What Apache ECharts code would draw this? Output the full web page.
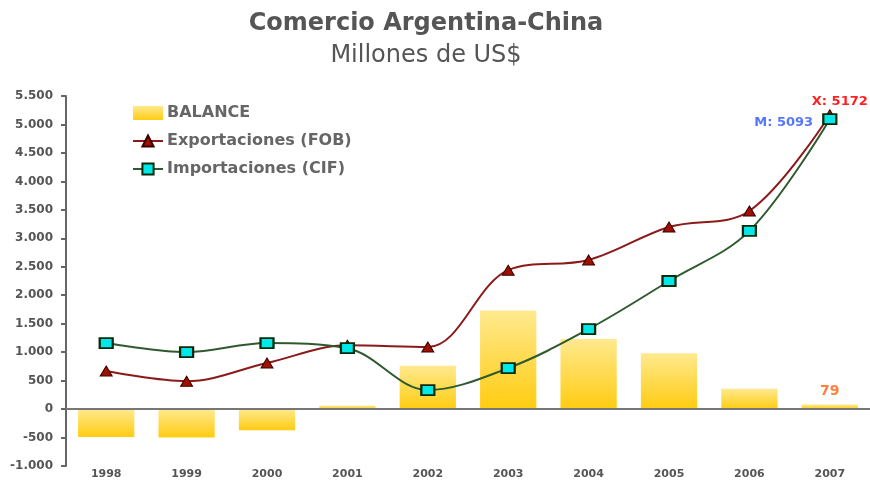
<!DOCTYPE html>
<html>
<head>
<meta charset="utf-8">
<script src="https://cdn.jsdelivr.net/npm/echarts@6/dist/echarts.min.js"></script>
<style>
html,body{margin:0;padding:0;background:#fff}
#chart{width:870px;height:493px}
</style>
</head>
<body>
<div id="chart"></div>
<script>
var years = ['1998','1999','2000','2001','2002','2003','2004','2005','2006','2007']
var balance = [-490,-500,-370,60,760,1730,1230,980,355,79]
var exportaciones = [670,490,810,1120,1090,2440,2620,3200,3480,5172]
var importaciones = [1160,1000,1160,1070,335,720,1405,2250,3130,5093]

function fmt(v){
	var s = Math.abs(v).toString()
	if (s.length > 3) s = s.slice(0, s.length-3) + '.' + s.slice(s.length-3)
	return (v < 0 ? '-' : '') + s
}

var font = 'DejaVu Sans'
var last = years.length - 1
var chart = echarts.init(document.getElementById('chart'))

var option = {
	animation: false,
	title: {
		text: 'Comercio Argentina-China',
		subtext: 'Millones de US$',
		left: 421,
		textAlign: 'center',
		top: 7,
		itemGap: 8,
		textStyle: {fontFamily: font, fontSize: 24, fontWeight: 'bold', color: '#555'},
		subtextStyle: {fontFamily: font, fontSize: 24, color: '#555'}
	},
	legend: {
		orient: 'vertical',
		left: 127,
		top: 100,
		itemGap: 12,
		itemWidth: 30,
		itemHeight: 14,
		textStyle: {fontFamily: font, fontSize: 16, fontWeight: 'bold', color: '#666', padding: [0, 0, 0, -1]},
		data: [
			{name: 'BALANCE', icon: 'rect'},
			{name: 'Exportaciones (FOB)'},
			{name: 'Importaciones (CIF)'}
		]
	},
	grid: {left: 66, top: 96, width: 807, height: 370},
	xAxis: {
		type: 'category',
		data: years,
		axisLine: {show: false},
		axisTick: {show: false},
		axisLabel: {margin: 3, fontFamily: font, fontSize: 11, fontWeight: 'bold', color: '#555'}
	},
	yAxis: {
		type: 'value',
		min: -1000,
		max: 5500,
		interval: 500,
		splitLine: {show: false},
		axisLine: {show: true, lineStyle: {color: '#666', width: 2}},
		axisTick: {show: true, length: 5, lineStyle: {color: '#666', width: 2}},
		axisLabel: {margin: 13, formatter: fmt, fontFamily: font, fontSize: 12, fontWeight: 'bold', color: '#555'}
	},
	series: [
		{
			name: 'BALANCE',
			type: 'bar',
			barWidth: '70%',
			itemStyle: {
				color: new echarts.graphic.LinearGradient(0, 0, 0, 1, [
					{offset: 0, color: '#ffe98f'},
					{offset: 1, color: '#ffcc11'}
				])
			},
			data: balance.map(function(v, i){
				if (i === last) return {value: v, label: {show: true, position: 'top', distance: 6, formatter: '{c}', color: '#ff7f3f', fontWeight: 'bold', fontSize: 14, fontFamily: font}}
				return v
			}),
			markLine: {
				silent: true,
				symbol: 'none',
				label: {show: false},
				lineStyle: {color: '#777', width: 2, type: 'solid'},
				data: [{yAxis: 0}]
			}
		},
		{
			name: 'Exportaciones (FOB)',
			type: 'line',
			smooth: 0.35,
			symbol: 'triangle',
			symbolSize: [12, 10],
			lineStyle: {color: '#8b1a1a', width: 2},
			itemStyle: {color: '#a01000', borderColor: '#3a0000', borderWidth: 1},
			data: exportaciones.map(function(v, i){
				if (i === last) return {value: v, label: {show: true, position: 'top', offset: [10, 4], formatter: 'X: {c}', color: '#ff2020', fontWeight: 'bold', fontSize: 13, fontFamily: font}}
				return v
			})
		},
		{
			name: 'Importaciones (CIF)',
			type: 'line',
			smooth: 0.35,
			symbol: 'rect',
			symbolSize: [13, 10],
			lineStyle: {color: '#2f5a2f', width: 2},
			itemStyle: {color: '#00e8e8', borderColor: '#0a2a0a', borderWidth: 2},
			data: importaciones.map(function(v, i){
				if (i === last) return {value: v, label: {show: true, position: 'left', offset: [-4, 3], formatter: 'M: {c}', color: '#5577ff', fontWeight: 'bold', fontSize: 13, fontFamily: font}}
				return v
			})
		}
	]
}

chart.setOption(option)
</script>
</body>
</html>
